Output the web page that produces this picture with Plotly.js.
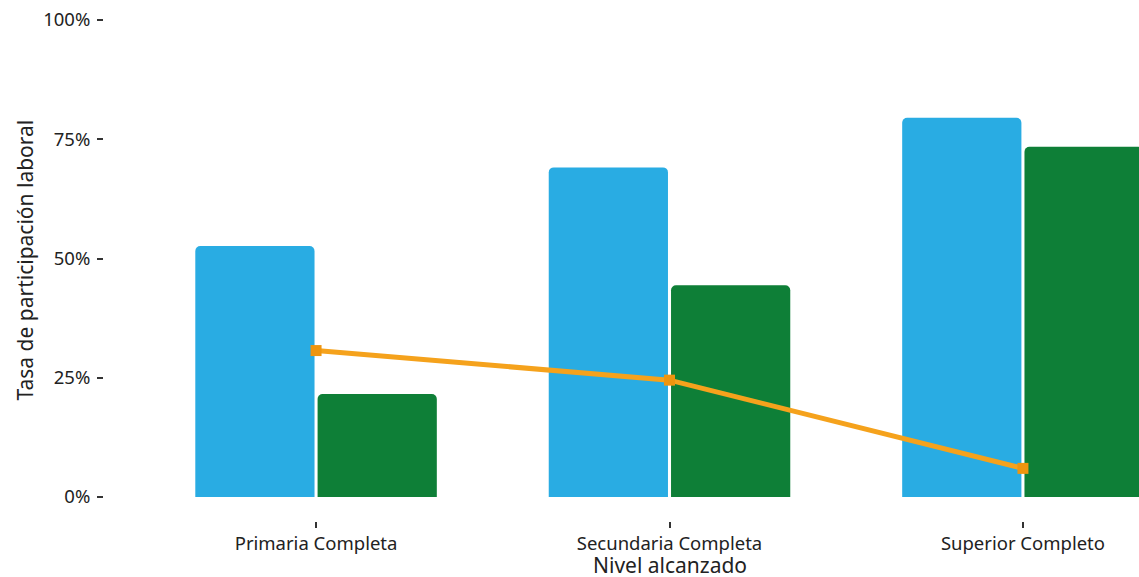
<!DOCTYPE html>
<html>
<head>
<meta charset="utf-8">
<script src="https://cdn.plot.ly/plotly-3.0.1.min.js"></script>
<style>
html, body { margin: 0; padding: 0; overflow: hidden; background: #fff; }
#chart { width: 1240px; height: 577px; }
</style>
</head>
<body>
<div id="chart"></div>
<script>
// Data
const categories = ["Primaria Completa", "Secundaria Completa", "Superior Completo"];
const seriesBlue = [0.526, 0.691, 0.795];
const seriesGreen = [0.216, 0.444, 0.734];
const seriesLine = [0.307, 0.245, 0.060];
const yTickVals = [0, 0.25, 0.5, 0.75, 1];
const yTickText = ["0%", "25%", "50%", "75%", "100%"];
const xTitle = "Nivel alcanzado";
const yTitle = "Tasa de participación laboral";

const traces = [
  {
    type: "bar", x: categories, y: seriesBlue, name: "Serie 1",
    marker: { color: "#29ACE3", cornerradius: 5, line: { width: 0 } },
    hoverinfo: "x+y"
  },
  {
    type: "bar", x: categories, y: seriesGreen, name: "Serie 2",
    marker: { color: "#0E7F37", cornerradius: 5, line: { width: 0 } },
    hoverinfo: "x+y"
  },
  {
    type: "scatter", mode: "lines+markers", x: categories, y: seriesLine, name: "Brecha",
    line: { color: "#F5A21C", width: 5 },
    marker: { symbol: "square", size: 11, color: "#EE950F" },
    cliponaxis: false
  }
];

const layout = {
  width: 1240, height: 577,
  margin: { l: 104, r: 5, t: 0, b: 56 },
  paper_bgcolor: "#ffffff", plot_bgcolor: "#ffffff",
  showlegend: false,
  barmode: "group",
  bargap: 0.308,
  bargroupgap: 0.025,
  font: { family: "Noto Sans, Open Sans, sans-serif", color: "#222222", size: 18 },
  xaxis: {
    type: "category",
    range: [-0.6, 2.6],
    automargin: false,
    showgrid: false, zeroline: false, showline: false,
    ticks: "outside", ticklen: 6, tickwidth: 2, tickcolor: "#333333",
    tickfont: { size: 18.5, color: "#222222" }
  },
  yaxis: {
    range: [-0.0503, 1.0419],
    automargin: false,
    tickvals: yTickVals, ticktext: yTickText,
    showgrid: false, zeroline: false, showline: false,
    ticks: "outside", ticklen: 6, tickwidth: 2, tickcolor: "#333333",
    ticklabelstandoff: 3,
    tickfont: { size: 18.5, color: "#222222" }
  },
  annotations: [
    {
      text: xTitle, xref: "paper", yref: "paper", x: 0.5, y: 0,
      xanchor: "center", yanchor: "middle", yshift: -44, showarrow: false,
      font: { size: 21, color: "#222222" }
    },
    {
      text: yTitle, xref: "paper", yref: "paper", x: 0, y: 0.5,
      xanchor: "center", yanchor: "middle", xshift: -80, textangle: -90, showarrow: false,
      font: { size: 21, color: "#222222" }
    }
  ]
};

Plotly.newPlot("chart", traces, layout, { displayModeBar: false, staticPlot: true });
</script>
</body>
</html>
